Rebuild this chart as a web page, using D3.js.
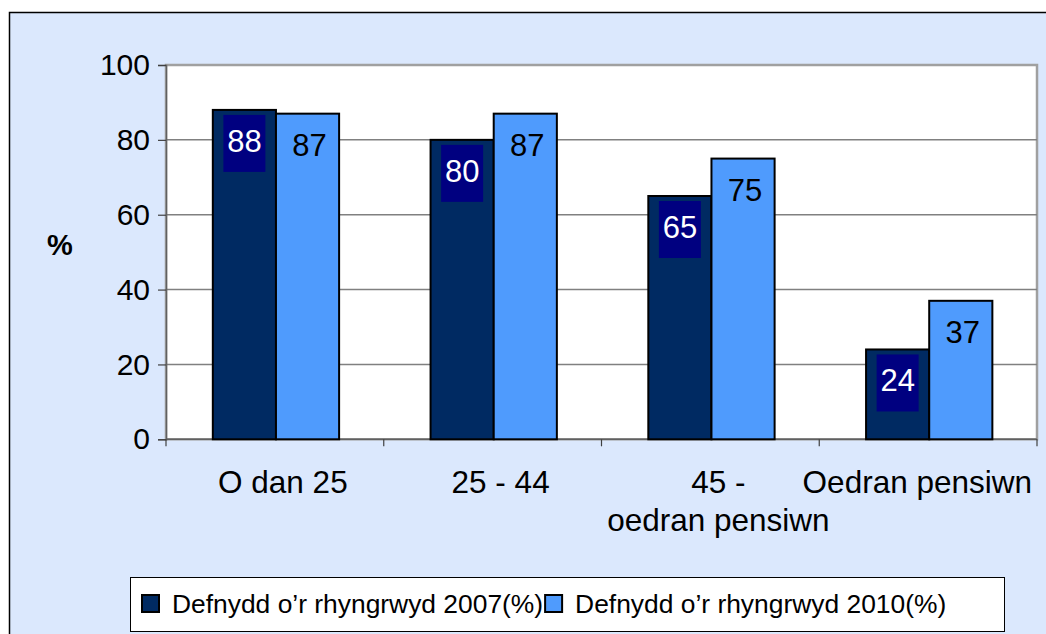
<!DOCTYPE html>
<html>
<head>
<meta charset="utf-8">
<script src="https://cdn.jsdelivr.net/npm/d3@7"></script>
<style>
  body { margin: 0; background: #fff; }
  svg text { font-family: "Liberation Sans", Arial, sans-serif; }
</style>
</head>
<body>
<div id="chart"></div>
<script>
// chart values
const categories = ["O dan 25", "25 - 44", "45 - oedran pensiwn", "Oedran pensiwn"];
const categoryLines = [["O dan 25"], ["25 - 44"], ["45 -", "oedran pensiwn"], ["Oedran pensiwn"]];
const seriesNames = ["Defnydd o\u2019r rhyngrwyd 2007(%)", "Defnydd o\u2019r rhyngrwyd 2010(%)"];
const values2007 = [88, 80, 65, 24];
const values2010 = [87, 87, 75, 37];
const yTicks = [0, 20, 40, 60, 80, 100];
const colors = ["#002a62", "#4f9bfd"];

const width = 1046, height = 634;
const plot = { left: 166, right: 1037, top: 65, bottom: 439.3 };

const svg = d3.select("#chart").append("svg")
    .attr("width", width)
    .attr("height", height);

// outer chart area
svg.append("rect")
    .attr("x", 9.5).attr("y", 12.5)
    .attr("width", width + 20).attr("height", height + 20)
    .attr("fill", "#dbe8fd")
    .attr("stroke", "#000")
    .attr("stroke-width", 1.5);

// plot area
svg.append("rect")
    .attr("x", plot.left).attr("y", plot.top)
    .attr("width", plot.right - plot.left).attr("height", plot.bottom - plot.top)
    .attr("fill", "#fff")
    .attr("stroke", "#a0a0a0")
    .attr("stroke-width", 2.5);

const y = d3.scaleLinear().domain([0, 100]).range([plot.bottom, plot.top]);
const x0 = d3.scaleBand().domain(categories).range([plot.left, plot.right]).padding(0);
const bw = x0.bandwidth();
const x1 = d3.scaleBand().domain([0, 1]).range([bw * 0.215, bw * 0.795]).padding(0);

// gridlines
svg.append("g")
    .selectAll("line")
    .data(yTicks.filter(t => t > 0 && t < 100))
    .join("line")
    .attr("x1", plot.left).attr("x2", plot.right)
    .attr("y1", d => y(d)).attr("y2", d => y(d))
    .attr("stroke", "#808080")
    .attr("stroke-width", 1.5);

// y axis
const yAxis = svg.append("g")
    .attr("transform", `translate(${plot.left},0)`)
    .call(d3.axisLeft(y).tickValues(yTicks).tickSize(8).tickPadding(8));
yAxis.select(".domain").attr("stroke", "#606060").attr("stroke-width", 1.5);
yAxis.selectAll(".tick line").attr("stroke", "#404040").attr("stroke-width", 1.2);
yAxis.selectAll(".tick text")
    .attr("fill", "#000")
    .style("font-size", "30px")
    .style("font-family", "'Liberation Sans', Arial, sans-serif");

// x axis line + boundary ticks
svg.append("line")
    .attr("x1", plot.left).attr("x2", plot.right)
    .attr("y1", plot.bottom).attr("y2", plot.bottom)
    .attr("stroke", "#606060").attr("stroke-width", 1.5);
const boundaries = categories.map(c => x0(c)).concat([plot.right]);
svg.append("g").selectAll("line")
    .data(boundaries)
    .join("line")
    .attr("x1", d => d).attr("x2", d => d)
    .attr("y1", plot.bottom).attr("y2", plot.bottom + 7)
    .attr("stroke", "#404040").attr("stroke-width", 1.2);

// bars
const rows = categories.map((c, i) => ({ cat: c, vals: [values2007[i], values2010[i]] }));
const groups = svg.append("g").selectAll("g")
    .data(rows)
    .join("g")
    .attr("transform", d => `translate(${x0(d.cat)},0)`);

groups.selectAll("rect")
    .data(d => d.vals.map((v, s) => ({ v, s })))
    .join("rect")
    .attr("x", d => x1(d.s))
    .attr("y", d => y(d.v))
    .attr("width", x1.bandwidth())
    .attr("height", d => y(0) - y(d.v))
    .attr("fill", d => colors[d.s])
    .attr("stroke", "#000")
    .attr("stroke-width", 2);

// value labels
groups.each(function (d) {
    const g = d3.select(this);
    d.vals.forEach((v, s) => {
        const cx = x1(s) + x1.bandwidth() / 2;
        if (s === 0) {
            g.append("rect")
                .attr("x", cx - 21).attr("y", y(v) + 5)
                .attr("width", 42).attr("height", 57)
                .attr("fill", "#000080");
        }
        g.append("text")
            .attr("x", cx + (s === 0 ? 0 : 2))
            .attr("y", y(v) + 42)
            .attr("text-anchor", "middle")
            .attr("fill", s === 0 ? "#fff" : "#000")
            .style("font-size", "31px")
            .text(v);
    });
});

// category labels
categories.forEach((c, i) => {
    const t = svg.append("text")
        .attr("text-anchor", "middle")
        .style("font-size", "31.5px")
        .attr("fill", "#000");
    categoryLines[i].forEach((line, k) => {
        t.append("tspan")
            .attr("x", x0(c) + bw / 2 + 8)
            .attr("y", 493 + k * 38)
            .text(line);
    });
    // keep inside the chart area
    const box = t.node().getBBox();
    if (box.x + box.width > 1032) {
        t.selectAll("tspan").attr("x", 1032 - box.width / 2);
    }
});

// y axis title
svg.append("text")
    .attr("x", 60).attr("y", 255)
    .attr("text-anchor", "middle")
    .style("font-size", "29px")
    .style("font-weight", "bold")
    .text("%");

// legend
const legend = svg.append("g");
legend.append("rect")
    .attr("x", 130.5).attr("y", 577.5)
    .attr("width", 874).attr("height", 54)
    .attr("fill", "#fff")
    .attr("stroke", "#000")
    .attr("stroke-width", 1);

let lx = 142;
seriesNames.forEach((name, s) => {
    legend.append("rect")
        .attr("x", lx).attr("y", 595)
        .attr("width", 17).attr("height", 17)
        .attr("fill", colors[s])
        .attr("stroke", "#000")
        .attr("stroke-width", 2);
    const t = legend.append("text")
        .attr("x", lx + 30).attr("y", 613)
        .style("font-size", "26.4px")
        .attr("fill", "#000")
        .text(name);
    lx = lx + 30 + t.node().getComputedTextLength() + 2;
});
</script>
</body>
</html>
